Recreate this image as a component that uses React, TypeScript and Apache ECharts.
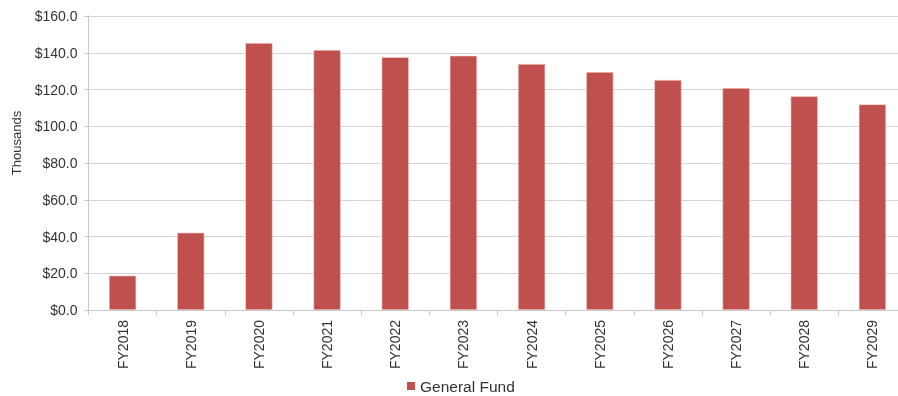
import React, { useEffect, useRef } from "react";
import * as echarts from "echarts";

const categories = ["FY2018", "FY2019", "FY2020", "FY2021", "FY2022", "FY2023", "FY2024", "FY2025", "FY2026", "FY2027", "FY2028", "FY2029"];
const generalFund = [18.7, 42.1, 145.3, 141.5, 137.6, 138.4, 133.9, 129.5, 125.2, 120.8, 116.3, 111.9];
const seriesName = "General Fund";
const yAxisName = "Thousands";

export default function App() {
  const ref = useRef<HTMLDivElement>(null);
  useEffect(() => {
    if (!ref.current) return;
    const chart = echarts.init(ref.current, undefined, { renderer: "svg" });
    const font = "Liberation Sans, Arial, sans-serif";
    chart.setOption({
      animation: false,
      textStyle: { fontFamily: font },
      grid: { left: 88.5, top: 16, right: 3.5, height: 294, containLabel: false },
      legend: {
        left: 407,
        top: 378,
        padding: 0,
        data: [seriesName],
        icon: "rect",
        itemWidth: 8,
        itemHeight: 8,
        itemStyle: { borderWidth: 0 },
        textStyle: { fontSize: 15.5, color: "#333", fontFamily: font },
      },
      graphic: [
        {
          type: "text",
          x: 16,
          y: 143,
          rotation: Math.PI / 2,
          style: {
            text: yAxisName,
            fontSize: 13,
            fill: "#333",
            fontFamily: font,
            align: "center",
            verticalAlign: "middle",
          },
        },
      ],
      xAxis: {
        type: "category",
        data: categories,
        boundaryGap: true,
        axisLine: { show: true, lineStyle: { color: "#c8c8c8", width: 1 } },
        axisTick: { show: true, length: 5, alignWithLabel: false, lineStyle: { color: "#c8c8c8" } },
        axisLabel: { rotate: 90, fontSize: 14, color: "#333", margin: 10, fontFamily: font },
      },
      yAxis: {
        type: "value",
        min: 0,
        max: 160,
        interval: 20,
        axisLine: { show: true, lineStyle: { color: "#c8c8c8", width: 1 } },
        axisTick: { show: true, length: 4, lineStyle: { color: "#c8c8c8" } },
        splitLine: { show: true, lineStyle: { color: "#d4d4d4", width: 1 } },
        axisLabel: {
          fontSize: 14,
          color: "#333",
          margin: 11,
          fontFamily: font,
          formatter: (v: number) => "$" + v.toFixed(1),
        },
      },
      series: [
        {
          name: seriesName,
          type: "bar",
          data: generalFund,
          barWidth: "40%",
          itemStyle: { color: "#C0504D", borderColor: "#f3d6d5", borderWidth: 0.6 },
        },
      ],
    });
    return () => chart.dispose();
  }, []);
  return (
    <div style={{ position: "fixed", left: 0, top: 0, width: 898, height: 396, overflow: "hidden" }}>
      <div ref={ref} style={{ width: 910, height: 396 }} />
    </div>
  );
}
